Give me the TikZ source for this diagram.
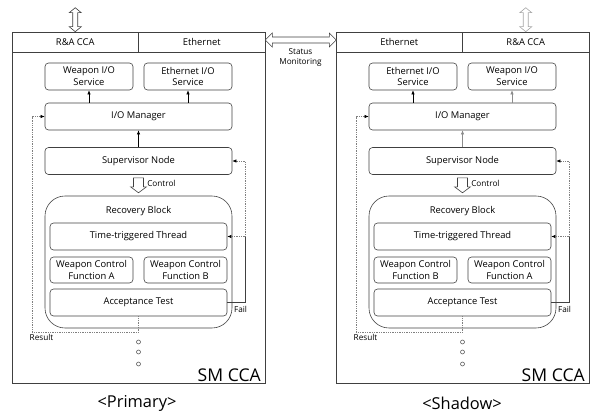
\documentclass[tikz,border=0pt]{standalone}
\usepackage{fontspec}
\setmainfont{Open Sans}
\usetikzlibrary{arrows.meta}

\tikzset{
  box/.style={draw=black!75, rounded corners=3pt, align=center, inner sep=0pt, font=\fontsize{8}{10}\selectfont},
  svc/.style={box, minimum width=26.4mm, minimum height=8.1mm},
  wbox/.style={box, minimum width=56.1mm, minimum height=8.1mm},
  tbox/.style={box, minimum width=53.1mm, minimum height=8.1mm},
  wcf/.style={box, minimum width=24.9mm, minimum height=7.8mm},
  rbox/.style={draw=black!75, rounded corners=6mm, minimum width=56.1mm, minimum height=39.6mm},
  panel/.style={draw=black!75, minimum width=75.9mm, minimum height=105.3mm, inner sep=0pt},
  hcell/.style={draw=black!75, minimum width=37.95mm, minimum height=6mm, inner sep=0pt, font=\fontsize{8}{10}\selectfont},
  lbl/.style={inner sep=0pt, font=\fontsize{7}{8.5}\selectfont, align=center},
  hollow/.style={draw=black!75, fill=white, line join=miter},
  fb/.style={densely dotted, draw=black!50},
  tip/.style={-{Latex[length=3.5pt, width=3pt, black]}},
  gtip/.style={-{Latex[length=3.5pt, width=3pt]}, black!45},
  every picture/.style={line width=0.5pt},
}

\begin{document}
\begin{tikzpicture}[x=0.3mm, y=-0.3mm]

  \useasboundingbox (0,0) rectangle (593,414);

  % primary side
  \begin{scope}
    \node[panel] (pL) at (138.5,207.5) {};
    \node[hcell] (raL) at (75.25,42) {R\&A CCA};
    \node[hcell] (ethL) at (201.75,42) {Ethernet};

    \node[svc] (wioL) at (89,76.5) {Weapon I/O\\Service};
    \node[svc] (eioL) at (188,76.5) {Ethernet I/O\\Service};
    \node[wbox] (iomL) at (138.5,116.5) {I/O Manager};
    \node[wbox] (supL) at (138.5,161) {Supervisor Node};

    \node[rbox] (rbL) at (138.5,262) {};
    \node[box, draw=none] (rbtL) at (138.5,211) {Recovery Block};
    \node[tbox] (ttL) at (138.5,236.5) {Time-triggered Thread};
    \node[wcf] (waL) at (91.5,270) {Weapon Control\\Function A};
    \node[wcf] (wbL) at (185.5,270) {Weapon Control\\Function B};
    \node[tbox] (atL) at (138.5,302.5) {Acceptance Test};

    \draw[tip] (wioL.south |- iomL.north) -- (wioL.south);
    \draw[tip] (eioL.south |- iomL.north) -- (eioL.south);
    \draw[tip] (supL.north) -- (iomL.south);

    \draw[hollow] ([shift={(-5,3)}]supL.south) -- ++(10,0) -- ++(0,9) -- ++(3,0)
      -- ++(-8,6) -- ++(-8,-6) -- ++(3,0) -- cycle;
    \node[lbl, anchor=west] (ctlL) at (147,183) {Control};

    % fail and result paths
    \coordinate (fL) at (245,236.5);
    \coordinate (rL) at (32,332);
    \draw[black!75] (atL.east) -| (fL);
    \draw[fb, tip] (fL) -- (ttL.east);
    \draw[fb, tip] (fL) |- (supL.east);
    \draw[fb, tip] (atL.south) |- (rL) |- (iomL.west);
    \node[lbl] (failL) at (240.5,309) {Fail};
    \node[lbl] (resL) at (41.5,337) {Result};

    \foreach \y in {342,352,364}
      \draw[black!65] (138.5,\y) circle[radius=0.6mm];

    \node[inner sep=0pt, anchor=base east, font=\fontsize{15}{18}\selectfont] (smL) at (261,381) {SM CCA};
    \node[font=\fontsize{14}{17}\selectfont] (capL) at (137,403) {<Primary>};

    \draw[hollow] (raL.north) -- ++(-6,-5) -- ++(3.5,0) -- ++(0,-14) -- ++(-3.5,0)
      -- ++(6,-5) -- ++(6,5) -- ++(-3.5,0) -- ++(0,14) -- ++(3.5,0) -- cycle;
  \end{scope}

  % shadow side
  \begin{scope}[shift={(324,0)}]
    \node[panel] (pR) at (138.5,207.5) {};
    \node[hcell] (ethR) at (75.25,42) {Ethernet};
    \node[hcell] (raR) at (201.75,42) {R\&A CCA};

    \node[svc] (eioR) at (89,76.5) {Ethernet I/O\\Service};
    \node[svc] (wioR) at (188,76.5) {Weapon I/O\\Service};
    \node[wbox] (iomR) at (138.5,116.5) {I/O Manager};
    \node[wbox] (supR) at (138.5,161) {Supervisor Node};

    \node[rbox] (rbR) at (138.5,262) {};
    \node[box, draw=none] (rbtR) at (138.5,211) {Recovery Block};
    \node[tbox] (ttR) at (138.5,236.5) {Time-triggered Thread};
    \node[wcf] (wbR) at (91.5,270) {Weapon Control\\Function B};
    \node[wcf] (waR) at (185.5,270) {Weapon Control\\Function A};
    \node[tbox] (atR) at (138.5,302.5) {Acceptance Test};

    \draw[tip] (eioR.south |- iomR.north) -- (eioR.south);
    \draw[gtip] (wioR.south |- iomR.north) -- (wioR.south);
    \draw[gtip] (supR.north) -- (iomR.south);

    \draw[hollow] ([shift={(-5,3)}]supR.south) -- ++(10,0) -- ++(0,9) -- ++(3,0)
      -- ++(-8,6) -- ++(-8,-6) -- ++(3,0) -- cycle;
    \node[lbl, anchor=west] (ctlR) at (147,183) {Control};

    % fail and result paths
    \coordinate (fR) at (245,236.5);
    \coordinate (rR) at (32,332);
    \draw[black!75] (atR.east) -| (fR);
    \draw[fb, tip] (fR) -- (ttR.east);
    \draw[fb, tip] (fR) |- (supR.east);
    \draw[fb, tip] (atR.south) |- (rR) |- (iomR.west);
    \node[lbl] (failR) at (240.5,309) {Fail};
    \node[lbl] (resR) at (41.5,337) {Result};

    \foreach \y in {342,352,364}
      \draw[black!65] (138.5,\y) circle[radius=0.6mm];

    \node[inner sep=0pt, anchor=base east, font=\fontsize{15}{18}\selectfont] (smR) at (261,381) {SM CCA};
    \node[font=\fontsize{14}{17}\selectfont] (capR) at (138,403) {<Shadow>};

    \draw[hollow, draw=black!35] (raR.north) -- ++(-6,-5) -- ++(3.5,0) -- ++(0,-14) -- ++(-3.5,0)
      -- ++(6,-5) -- ++(6,5) -- ++(-3.5,0) -- ++(0,14) -- ++(3.5,0) -- cycle;
  \end{scope}

  % status monitoring between the two CCAs
  \draw[hollow] ([shift={(0,-2)}]ethL.east) -- ++(7,-7) -- ++(0,4) -- ++(57,0) -- ++(0,-4)
    -- ++(7,7) -- ++(-7,7) -- ++(0,-4) -- ++(-57,0) -- ++(0,4) -- cycle;
  \node[lbl] (stat) at (300.5,57.5) {Status\\Monitoring};

\end{tikzpicture}
\end{document}
